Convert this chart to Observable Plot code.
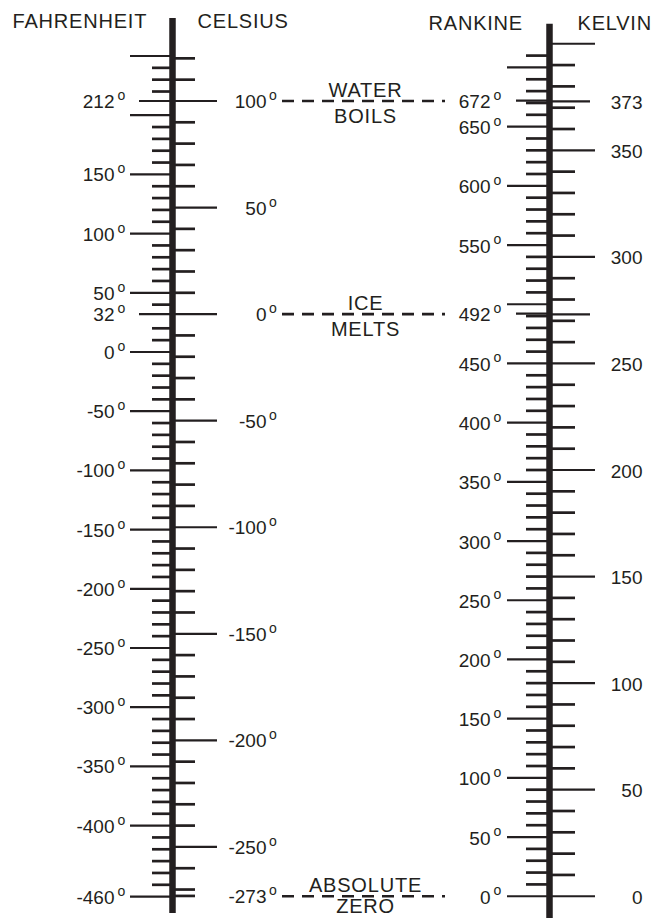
<!DOCTYPE html>
<html>
<head>
<meta charset="utf-8">
<script src="https://cdn.jsdelivr.net/npm/d3@7"></script>
<script src="https://cdn.jsdelivr.net/npm/@observablehq/plot@0.6"></script>
<style>
  html, body { margin: 0; padding: 0; background: #fff; }
</style>
</head>
<body>
<div id="chart"></div>
<script>
// ---- Data ----
const headings = ["FAHRENHEIT", "CELSIUS", "RANKINE", "KELVIN"];

const fahrenheitLabels = [212, 150, 100, 50, 32, 0, -50, -100, -150, -200, -250, -300, -350, -400, -460];
const celsiusLabels = [100, 50, 0, -50, -100, -150, -200, -250, -273];
const rankineLabels = [672, 650, 600, 550, 492, 450, 400, 350, 300, 250, 200, 150, 100, 50, 0];
const kelvinLabels = [373, 350, 300, 250, 200, 150, 100, 50, 0];

const eventTop = ["WATER", "ICE", "ABSOLUTE"];
const eventBottom = ["BOILS", "MELTS", "ZERO"];
const eventCelsius = [100, 0, -273.15];

// graduations
const fahrenheitMajorTicks = d3.range(-400, 251, 50).concat([-460]);
const fahrenheitMidTicks = [212, 32];
const fahrenheitMinorTicks = d3.range(-450, 250, 10).filter(v => (v % 50 !== 0 || v === -450) && v !== 210 && v !== 30);

const celsiusMajorTicks = d3.range(-250, 101, 50);
const celsiusMinorTicks = d3.range(-270, 121, 10).filter(v => v % 50 !== 0).concat([-273]);

const rankineMajorTicks = d3.range(0, 701, 50);
const rankineMidTicks = [672, 492];
const rankineMinorTicks = d3.range(0, 711, 10).filter(v => v % 50 !== 0);

const kelvinMajorTicks = d3.range(0, 401, 50);
const kelvinMidTicks = [373, 273];
const kelvinMinorTicks = d3.range(0, 401, 10).filter(v => v % 50 !== 0);

// ---- unit conversions (everything positioned on one Kelvin scale) ----
const fToK = f => (f - 32) * 5 / 9 + 273.15;
const cToK = c => c + 273.15;
const rToK = r => r * 5 / 9;
const kToK = k => k;

const events = eventCelsius.map((c, i) => ({top: eventTop[i], bottom: eventBottom[i], celsius: c}));

// ---- layout / style ----
const ink = "#231f20";
const FONT = "'Liberation Sans', Arial, Helvetica, sans-serif";
const LEFT_AXIS = 172, RIGHT_AXIS = 549;

const tick = (data, conv, x1, x2, sw) =>
  Plot.ruleY(data, {y: conv, x1, x2, stroke: ink, strokeWidth: sw});
const numLabel = (data, conv, x, anchor, dy) =>
  Plot.text(data, {x, y: conv, text: d => String(d), textAnchor: anchor, fontSize: 19, dy, fill: ink});
const degree = (data, conv, x) =>
  Plot.text(data, {x, y: conv, text: () => "o", textAnchor: "start", lineAnchor: "bottom", fontSize: 14, dy: -1, fill: ink});

const chart = Plot.plot({
  width: 665,
  height: 918,
  margin: 0,
  style: {fontFamily: FONT, background: "#fff", color: ink},
  x: {domain: [0, 665], range: [0, 665], axis: null},
  y: {domain: [-10.44, 420.3], axis: null},
  marks: [
    // event dashed lines
    Plot.ruleY(events, {y: d => cToK(d.celsius), x1: 282, x2: 445, stroke: ink, strokeWidth: 2.7, strokeDasharray: "12,8"}),
    Plot.text(events, {x: 365, y: d => cToK(d.celsius), text: "top", lineAnchor: "bottom", dy: -4, fontSize: 20, fill: ink}),
    Plot.text(events.slice(0, 2), {x: 365, y: d => cToK(d.celsius), text: "bottom", lineAnchor: "top", dy: 8, fontSize: 20, fill: ink}),
    Plot.text(events.slice(2), {x: 365, y: d => cToK(d.celsius), text: "bottom", lineAnchor: "top", dy: 3, fontSize: 20, fill: ink}),

    // left axis: Fahrenheit (left) / Celsius (right)
    tick(fahrenheitMajorTicks, fToK, 130, LEFT_AXIS, 2.2),
    tick(fahrenheitMidTicks, fToK, 139, LEFT_AXIS, 2.2),
    tick(fahrenheitMinorTicks, fToK, 152, LEFT_AXIS, 2.7),
    tick(celsiusMajorTicks, cToK, LEFT_AXIS, 217, 2.2),
    tick(celsiusMinorTicks, cToK, LEFT_AXIS, 195, 2.7),
    Plot.ruleX([LEFT_AXIS], {y1: -8.1, y2: 411.9, stroke: ink, strokeWidth: 6.5}),

    // right axis: Rankine (left) / Kelvin (right)
    tick(rankineMajorTicks, rToK, 507, RIGHT_AXIS, 2.2),
    tick(rankineMidTicks, rToK, 516, RIGHT_AXIS, 2.2),
    tick(rankineMinorTicks, rToK, 526, RIGHT_AXIS, 2.7),
    tick(kelvinMajorTicks, kToK, RIGHT_AXIS, 595, 2.2),
    tick(kelvinMidTicks, kToK, RIGHT_AXIS, 590, 2.2),
    tick(kelvinMinorTicks, kToK, RIGHT_AXIS, 575, 2.7),
    Plot.ruleX([RIGHT_AXIS], {y1: -10.44, y2: 409.1, stroke: ink, strokeWidth: 6.5}),

    // labels
    numLabel(fahrenheitLabels, fToK, 114, "end", 1),
    degree(fahrenheitLabels, fToK, 117),
    numLabel(celsiusLabels, cToK, 266, "end", 1),
    degree(celsiusLabels, cToK, 268.5),
    numLabel(rankineLabels, rToK, 490, "end", 1.5),
    degree(rankineLabels, rToK, 493),
    numLabel(kelvinLabels, kToK, 642, "end", 1.5),

    // headings
    Plot.text(headings.slice(0, 2), {x: (d, i) => [12, 197][i], frameAnchor: "top", textAnchor: "start", lineAnchor: "top", dy: 13, fontSize: 20, fill: ink}),
    Plot.text(headings.slice(2), {x: (d, i) => [428, 577][i], frameAnchor: "top", textAnchor: "start", lineAnchor: "top", dy: 15, fontSize: 20, fill: ink})
  ]
});

d3.select(chart).selectAll("text")
  .filter(function () { return /^[A-Z]+$/.test(this.textContent); })
  .style("letter-spacing", "0.8px");

document.getElementById("chart").appendChild(chart);
</script>
</body>
</html>
